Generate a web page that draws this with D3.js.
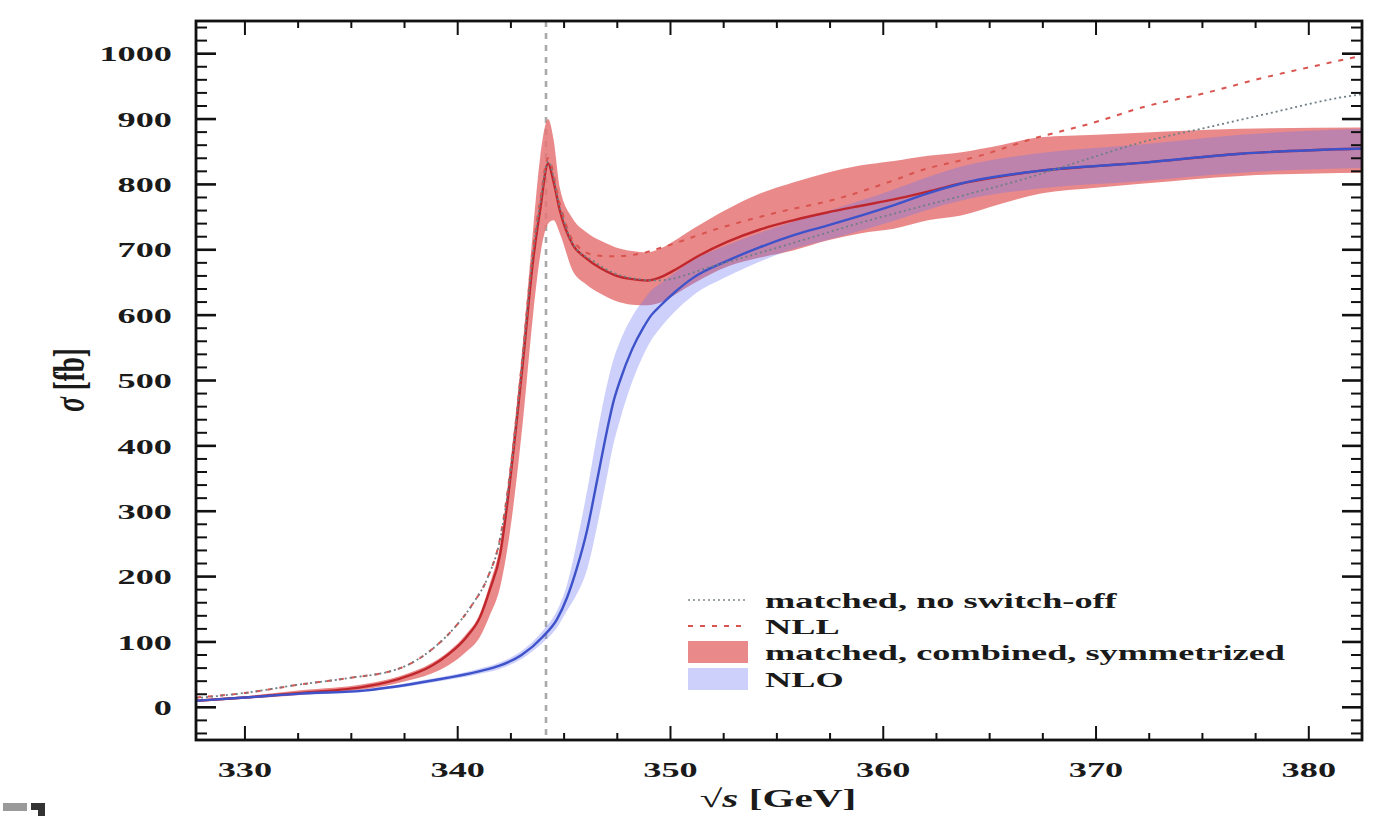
<!DOCTYPE html>
<html>
<head>
<meta charset="utf-8">
<script src="https://cdn.jsdelivr.net/npm/d3@7"></script>
<style>
  html, body { margin: 0; padding: 0; background: #fff; }
  svg { display: block; }
  text { font-family: "Liberation Serif", "DejaVu Serif", serif; fill: #1a1a1a; }
</style>
</head>
<body>
<svg id="chart" width="1373" height="816"></svg>
<script>
// ---- tick labels ----
const xTicks = [330, 340, 350, 360, 370, 380];
const yTicks = [0, 100, 200, 300, 400, 500, 600, 700, 800, 900, 1000];
const thresholdGeV = 344.15;

// ---- matched, combined, symmetrized (central value and band) ----
const redX    = [327.7, 330, 332.6, 335.7, 337.3, 338.8, 339.6, 340.4, 341.05, 341.5, 342.0, 342.46, 343.07, 343.54, 343.87, 344.25, 344.5, 344.8, 345.4, 346.0, 346.7, 347.4, 348.2, 348.9, 349.6, 350.3, 351.06, 352.66, 354.21, 355.76, 357.36, 358.9, 360.5, 362.1, 363.6, 365.5, 367.4, 370, 372.1, 376.8, 382.5];
const redMid  = [10, 15, 22, 32, 44, 64, 82, 107, 138, 179, 235, 347, 530, 683, 760, 832, 805, 760, 708, 688, 672, 661, 655, 653, 659, 671, 686, 712, 731, 745, 757, 767, 777, 789, 801, 812, 821, 828, 833, 847, 855];
const redLow  = [8, 13, 19, 28, 38, 52, 65, 85, 108, 140, 185, 270, 440, 600, 690, 740, 745, 725, 668, 648, 633, 622, 616, 615, 620, 633, 648, 674, 688, 699, 714, 725, 732, 745, 752, 770, 786, 795, 801, 813, 818];
const redHigh = [12, 17, 26, 36, 48, 68, 86, 112, 144, 188, 250, 370, 560, 730, 840, 900, 870, 795, 748, 728, 714, 704, 698, 696, 703, 716, 732, 762, 786, 803, 818, 829, 836, 844, 849, 860, 872, 876, 879, 885, 887];

// ---- NLO (central value and band) ----
const blueX    = [327.7, 330, 332.6, 335.7, 338.8, 341.0, 342.0, 343.0, 344.0, 344.67, 345.14, 345.61, 346.08, 346.55, 347.02, 347.3, 347.63, 348.2, 348.71, 349.1, 349.51, 350.2, 351.06, 352.66, 354.21, 355.76, 357.36, 358.91, 360.47, 362.06, 363.62, 367.4, 372.1, 376.8, 382.5];
const blueMid  = [10, 15, 21, 26, 41, 55, 64, 80, 108, 135, 168, 214, 271, 347, 424, 465, 500, 548, 580, 600, 614, 635, 657, 683, 704, 722, 737, 752, 768, 786, 801, 821, 833, 847, 855];
const blueLow  = [9, 14, 19, 24, 38, 51, 59, 74, 99, 122, 148, 174, 211, 277, 354, 400, 440, 498, 538, 562, 580, 605, 630, 659, 682, 701, 715, 729, 744, 761, 775, 794, 805, 818, 825];
const blueHigh = [11, 16, 23, 28, 44, 59, 69, 86, 117, 148, 188, 254, 331, 417, 494, 530, 560, 598, 622, 638, 648, 665, 684, 707, 726, 743, 759, 775, 792, 811, 827, 848, 861, 876, 885];

// ---- NLL ----
const nllX = [327.7, 330, 332.6, 334.7, 337.3, 338.84, 339.8, 340.7, 341.4, 342.0, 342.5, 343.07, 343.54, 343.87, 344.25, 344.8, 345.4, 346.4, 347.3, 348.57, 349.84, 352, 355.01, 357.83, 360.47, 361.73, 364.56, 367.05, 369.73, 372.41, 375.04, 377.72, 380.54, 382.5];
const nllY = [15, 22, 35, 44, 60, 90, 120, 158, 198, 260, 370, 545, 700, 775, 840, 770, 715, 692, 690, 694, 706, 730, 757, 778, 806, 821, 844, 870, 893, 920, 939, 962, 983, 997];

// ---- matched, no switch-off ----
const nsoX = [327.7, 330, 332.6, 334.7, 337.3, 338.84, 339.8, 340.7, 341.4, 342.0, 342.5, 343.07, 343.54, 343.87, 344.25, 344.8, 345.4, 346.4, 347.3, 348.5, 349.4, 352, 355, 359, 363.4, 366.8, 369.7, 372.1, 375.2, 378.3, 381.5, 382.5];
const nsoY = [14, 22, 35, 44, 60, 90, 120, 158, 198, 258, 365, 540, 695, 770, 835, 765, 710, 682, 665, 655, 653, 675, 703, 742, 780, 810, 840, 864, 887, 910, 933, 938];

const legendLabels = ["matched, no switch-off", "NLL", "matched, combined, symmetrized", "NLO"];

// ---- layout ----
const svg = d3.select("#chart");
const box = { left: 196, right: 1362, top: 21, bottom: 740 };
const SX = 1.65;           // horizontal stretch of the lettering
const tickFont = 22;

const x = d3.scaleLinear().domain([327.7, 382.5]).range([box.left, box.right]);
const y = d3.scaleLinear().domain([-50, 1050]).range([box.bottom, box.top]);

const col = {
  redBand: "rgb(230,116,116)",
  redLine: "#c0272d",
  blueBand: "rgb(110,120,240)",
  blueLine: "#3e52c9",
  nll: "#d9534f",
  nso: "#6f7f86",
  thr: "#a9a9a9"
};

svg.append("defs").append("clipPath").attr("id", "plotclip")
  .append("rect")
  .attr("x", box.left).attr("y", box.top)
  .attr("width", box.right - box.left).attr("height", box.bottom - box.top);

const plot = svg.append("g").attr("clip-path", "url(#plotclip)");

const zip = (xs, ...cols) => xs.map((v, i) => ({ x: v, c: cols.map(a => a[i]) }));

const band = d3.area()
  .curve(d3.curveMonotoneX)
  .x(d => x(d.x)).y0(d => y(d.c[0])).y1(d => y(d.c[1]));
const line = d3.line()
  .curve(d3.curveMonotoneX)
  .x(d => x(d.x)).y(d => y(d.c[0]));

// threshold marker
plot.append("line")
  .attr("x1", x(thresholdGeV)).attr("x2", x(thresholdGeV))
  .attr("y1", box.top).attr("y2", box.bottom)
  .attr("stroke", col.thr).attr("stroke-width", 2.6)
  .attr("stroke-dasharray", "6,6");

// bands: red first, translucent blue on top gives the mauve overlap
plot.append("path").datum(zip(redX, redLow, redHigh))
  .attr("d", band).attr("fill", col.redBand).attr("fill-opacity", 0.85);
plot.append("path").datum(zip(blueX, blueLow, blueHigh))
  .attr("d", band).attr("fill", col.blueBand).attr("fill-opacity", 0.35);

// central curves
plot.append("path").datum(zip(redX, redMid))
  .attr("d", line).attr("fill", "none")
  .attr("stroke", col.redLine).attr("stroke-width", 2.4);
plot.append("path").datum(zip(blueX, blueMid))
  .attr("d", line).attr("fill", "none")
  .attr("stroke", col.blueLine).attr("stroke-width", 2.4);

// NLL and unswitched matched curve
plot.append("path").datum(zip(nllX, nllY))
  .attr("d", line).attr("fill", "none")
  .attr("stroke", col.nll).attr("stroke-width", 2)
  .attr("stroke-dasharray", "5,7");
plot.append("path").datum(zip(nsoX, nsoY))
  .attr("d", line).attr("fill", "none")
  .attr("stroke", col.nso).attr("stroke-width", 1.8)
  .attr("stroke-dasharray", "2,3");

// ---- frame and ticks (inward on all four sides) ----
const axes = svg.append("g");
const d3range = (a, b, s) => d3.range(a, b + s / 2, s);
const xMinor = d3range(330, 382.5, 2.5).filter(v => v % 10 !== 0 && v <= 382.5);
const yMinor = d3range(-40, 1040, 20).filter(v => v % 100 !== 0);

function xTickMarks(vals, len) {
  vals.forEach(v => {
    axes.append("line").attr("x1", x(v)).attr("x2", x(v))
      .attr("y1", box.bottom).attr("y2", box.bottom - len)
      .attr("stroke", "#111").attr("stroke-width", 2);
    axes.append("line").attr("x1", x(v)).attr("x2", x(v))
      .attr("y1", box.top).attr("y2", box.top + len)
      .attr("stroke", "#111").attr("stroke-width", 2);
  });
}
function yTickMarks(vals, len, w) {
  vals.forEach(v => {
    axes.append("line").attr("x1", box.left).attr("x2", box.left + len)
      .attr("y1", y(v)).attr("y2", y(v))
      .attr("stroke", "#111").attr("stroke-width", w);
    axes.append("line").attr("x1", box.right).attr("x2", box.right - len)
      .attr("y1", y(v)).attr("y2", y(v))
      .attr("stroke", "#111").attr("stroke-width", w);
  });
}
xTickMarks(xTicks, 14);
xTickMarks(xMinor, 7);
yTickMarks(yTicks, 20, 2.6);
yTickMarks(yMinor, 11, 2);

axes.append("rect")
  .attr("x", box.left).attr("y", box.top)
  .attr("width", box.right - box.left).attr("height", box.bottom - box.top)
  .attr("fill", "none").attr("stroke", "#111").attr("stroke-width", 2.8);

// stretched lettering helper
function label(g, px, py, anchor, size, rot) {
  return g.append("text")
    .attr("transform", rot
      ? `translate(${px},${py}) rotate(-90) scale(1,${SX})`
      : `translate(${px},${py}) scale(${SX},1)`)
    .attr("text-anchor", anchor)
    .attr("font-size", size)
    .attr("font-weight", "bold");
}

yTicks.forEach(v => {
  label(svg, 172, y(v), "end", tickFont).attr("dy", "0.35em").text(v);
});
xTicks.forEach(v => {
  label(svg, x(v), 777, "middle", tickFont).text(v);
});

// axis titles
const yt = label(svg, 68, 380, "middle", 27, true).attr("dy", "0.35em");
yt.append("tspan").attr("font-style", "italic").text("σ");
yt.append("tspan").text(" [fb]");

const xt = label(svg, 778, 807, "middle", 25);
xt.append("tspan").text("√");
xt.append("tspan").attr("font-style", "italic").text("s");
xt.append("tspan").text(" [GeV]");

// ---- legend ----
const lg = svg.append("g");
const rowY = [600, 626, 652, 679];
const sx0 = 688, sx1 = 748, tx = 765;
lg.append("line").attr("x1", sx0).attr("x2", sx1).attr("y1", rowY[0]).attr("y2", rowY[0])
  .attr("stroke", "#9aa4a8").attr("stroke-width", 1.8).attr("stroke-dasharray", "2,3");
lg.append("line").attr("x1", sx0).attr("x2", sx1).attr("y1", rowY[1]).attr("y2", rowY[1])
  .attr("stroke", col.nll).attr("stroke-width", 2).attr("stroke-dasharray", "5,7");
lg.append("rect").attr("x", sx0).attr("y", rowY[2] - 11).attr("width", sx1 - sx0).attr("height", 22)
  .attr("fill", col.redBand).attr("fill-opacity", 0.85);
lg.append("rect").attr("x", sx0).attr("y", rowY[3] - 11).attr("width", sx1 - sx0).attr("height", 22)
  .attr("fill", col.blueBand).attr("fill-opacity", 0.35);
legendLabels.forEach((s, i) => {
  label(lg, tx, rowY[i], "start", tickFont).attr("dy", "0.35em").text(s);
});

// small marks in the lower-left corner of the page
svg.append("rect").attr("x", 3).attr("y", 803).attr("width", 24).attr("height", 8).attr("fill", "#9a9a9a");
svg.append("path").attr("d", "M31,803 H45 V816 H38 V810 H31 Z").attr("fill", "#333");
</script>
</body>
</html>
